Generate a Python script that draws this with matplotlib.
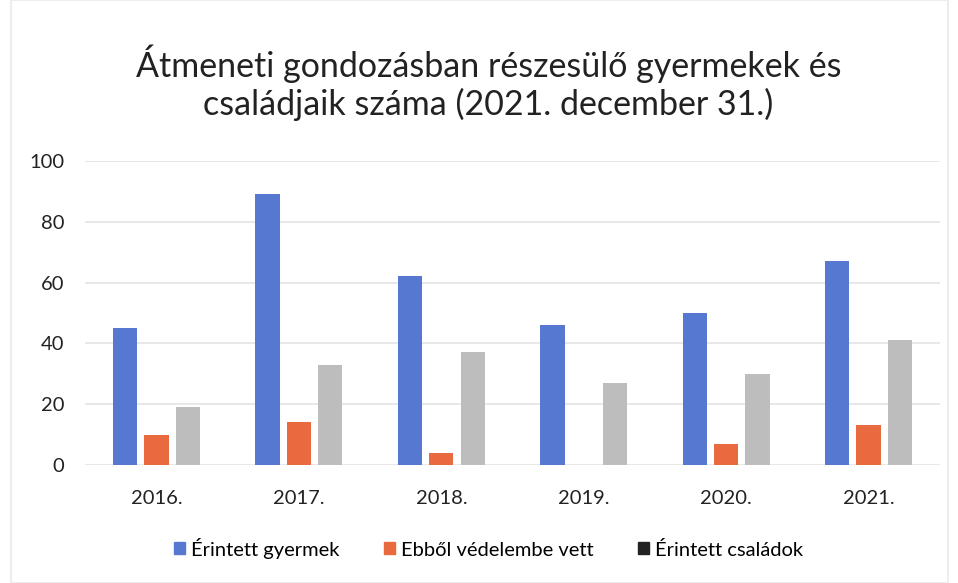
import matplotlib.pyplot as plt
import numpy as np

years = ['2016.', '2017.', '2018.', '2019.', '2020.', '2021.']
gyermek = [45, 89, 62, 46, 50, 67]
vedelem = [10, 14, 4, 0, 7, 13]
csaladok = [19, 33, 37, 27, 30, 41]

labels = ['Érintett gyermek', 'Ebből védelembe vett', 'Érintett családok']
colors = ['#5778d0', '#e86a3e', '#bdbdbd']

plt.rcParams['font.family'] = ['Lato', 'DejaVu Sans']

fig = plt.figure(figsize=(9.58, 5.83), dpi=100)
ax = fig.add_axes([0.089, 0.2024, 0.892, 0.5216])

x = np.arange(len(years))
w = 0.17
step = 0.22
for i, (vals, c) in enumerate(zip([gyermek, vedelem, csaladok], colors)):
    ax.bar(x + (i - 1) * step, vals, w, color=c, zorder=3)

ax.set_ylim(0, 100)
ax.set_xlim(-0.5, len(years) - 0.5)
ax.set_yticks(range(0, 101, 20))
ax.set_xticks(x)
ax.set_xticklabels(years)
ax.tick_params(length=0, labelsize=14.5, colors='#222222')
ax.tick_params(axis='y', pad=15)
ax.tick_params(axis='x', pad=18)
ax.yaxis.grid(True, color='#e4e4e4', lw=1.2, zorder=0)
for s in ax.spines.values():
    s.set_visible(False)

fig.text(0.51, 0.858, 'Átmeneti gondozásban részesülő gyermekek és\ncsaládjaik száma (2021. december 31.)',
         ha='center', va='center', fontsize=24.5, color='#222222', linespacing=1.2)

handles = [plt.Rectangle((0, 0), 1, 1, color=c) for c in ['#5778d0', '#e86a3e', '#222222']]
fig.legend(handles, labels, loc='center', bbox_to_anchor=(0.51, 0.06), ncol=3,
           frameon=False, fontsize=14.5, handlelength=0.55, handleheight=0.55,
           handletextpad=0.3, columnspacing=2.2)

frame = plt.Rectangle((0.012, 0.0), 0.978, 1.0, transform=fig.transFigure,
                      fill=False, ec='#ededed', lw=1.5)
fig.add_artist(frame)

fig.savefig('out.png', dpi=100, facecolor='white')
